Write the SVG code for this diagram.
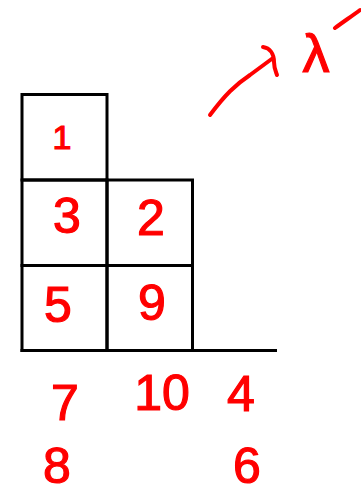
<svg xmlns="http://www.w3.org/2000/svg" width="361" height="493" viewBox="0 0 361 493">
<style>
.cell{fill:none;stroke:#000;stroke-width:3}
.d{font-family:"Liberation Sans","DejaVu Sans",sans-serif;font-size:50px;fill:#ff0000;stroke:#ff0000;stroke-width:1.2;text-anchor:middle}
.ink{fill:none;stroke:#ff0000;stroke-width:4;stroke-linecap:round;stroke-linejoin:round}
</style>
<rect width="361" height="493" fill="#fff"/>
<g id="cell-1"><rect class="cell" x="22" y="94.5" width="85" height="85.5"/><text class="d" x="62" y="149" style="font-size:34px">1</text></g>
<g id="cell-3"><rect class="cell" x="22" y="180" width="85" height="85.5"/><text class="d" x="67" y="233">3</text></g>
<g id="cell-2"><rect class="cell" x="107" y="180" width="85.5" height="85.5"/><text class="d" x="151" y="235">2</text></g>
<g id="cell-5"><rect class="cell" x="22" y="265.5" width="85" height="85"/><text class="d" x="58" y="322">5</text></g>
<g id="cell-9"><rect class="cell" x="107" y="265.5" width="85.5" height="85"/><text class="d" x="152" y="320">9</text></g>
<g id="connectors">
<line x1="20.5" y1="350.5" x2="277" y2="350.5" stroke="#000" stroke-width="3"/>
<path class="ink" d="M210,115 C225,95 235,85 250,75 C258,69 265,64 273,58"/>
<path class="ink" d="M263,47 C270,48 274,54 274,62 C274,68 276,72 277,75"/>
<path class="ink" d="M335,28 C343,22 352,16 360,10"/>
</g>
<g id="label-lambda"><text class="d" x="316" y="72" style="font-size:54px">λ</text></g>
<g id="label-7"><text class="d" x="65" y="420">7</text></g>
<g id="label-10"><text class="d" x="162" y="410">10</text></g>
<g id="label-4"><text class="d" x="241" y="411">4</text></g>
<g id="label-8"><text class="d" x="57" y="483">8</text></g>
<g id="label-6"><text class="d" x="247" y="483">6</text></g>
</svg>
